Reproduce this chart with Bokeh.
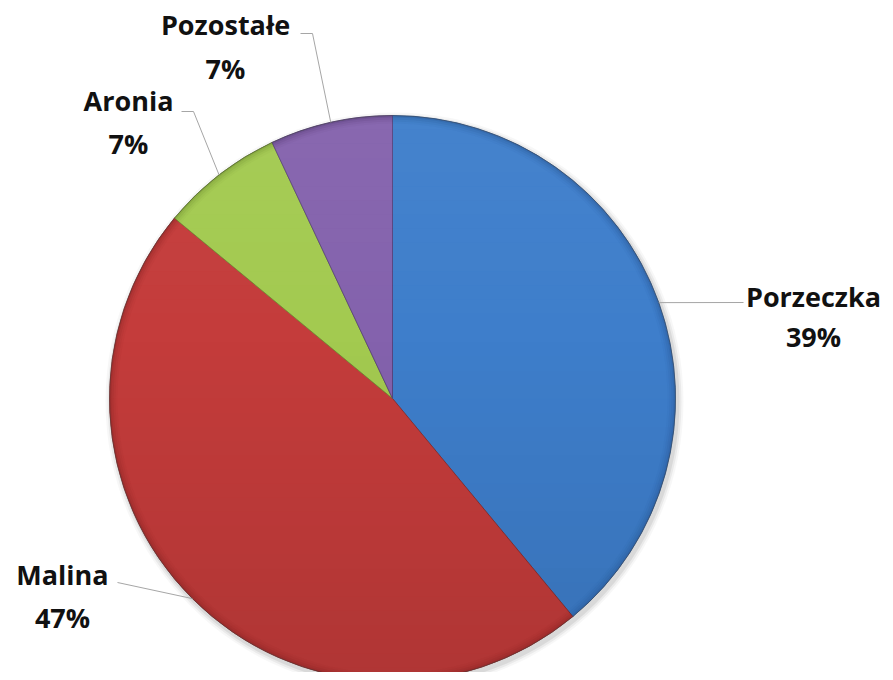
import math
from bokeh.plotting import figure
from bokeh.models import Range1d, ColumnDataSource
from bokeh.core.properties import value
from bokeh.embed import file_html
from bokeh.resources import INLINE

# ---- data ----
categories = ["Porzeczka", "Malina", "Aronia", "Pozostałe"]
shares = [39, 47, 7, 7]
pct_labels = ["39%", "47%", "7%", "7%"]

# ---- styling / layout ----
colors = ["#3e7ecb", "#c43c3b", "#a3ca50", "#8462ad"]
edge_colors = ["#2a5896", "#8a2827", "#6f8f30", "#563e78"]
W, H = 885, 672
def sy(y):  # screen y -> data y
    return 680 - y
cx, cy, R = 392, sy(398), 283
TXT_DY = -9  # baseline correction

# label layout in screen coords: (leader end x, leader end y, elbow x or None, text center x, baseline1, baseline2)
label_layout = {
    "Porzeczka": (743, 302, None, 813, 305, 345),
    "Malina":    (117, 582, None, 62, 583, 626),
    "Aronia":    (181, 111, 193, 128, 109, 152),
    "Pozostałe": (300, 33, 312, 225, 33, 77),
}

p = figure(width=W, height=H, x_range=Range1d(0, W), y_range=Range1d(sy(H), sy(0)),
           output_backend="svg", toolbar_location=None, min_border=0, title=None)
p.axis.visible = False
p.grid.visible = False
p.outline_line_color = None
p.background_fill_color = "white"

total = sum(shares)
starts, ends, mids = [], [], []
cum = 0.0
for v in shares:
    a0 = 90 - cum / total * 360
    cum += v
    a1 = 90 - cum / total * 360
    starts.append(math.radians(a0))
    ends.append(math.radians(a1))
    mids.append(math.radians((a0 + a1) / 2))

# soft shadow
for dr, al in [(6, 0.03), (4, 0.05), (2, 0.07)]:
    p.circle(x=[cx + 2], y=[cy - 3], radius=R + dr, fill_color="black", fill_alpha=al, line_color=None)

src = ColumnDataSource(dict(start=starts, end=ends, color=colors, edge=edge_colors))
p.wedge(x=cx, y=cy, radius=R, start_angle="start", end_angle="end", direction="clock",
        fill_color="color", line_color="edge", line_width=0.8, source=src)

# vertical shading (lighter top, darker bottom) via horizontal circle bands
nb = 40
for k in range(nb):
    y0 = cy + R - 2 * R * k / nb
    y1 = cy + R - 2 * R * (k + 1) / nb
    xs, ys = [], []
    steps = 6
    for j in range(steps + 1):
        yy = y0 + (y1 - y0) * j / steps
        hw = math.sqrt(max(R * R - (yy - cy) ** 2, 0))
        xs.append(cx + hw); ys.append(yy)
    for j in range(steps, -1, -1):
        yy = y0 + (y1 - y0) * j / steps
        hw = math.sqrt(max(R * R - (yy - cy) ** 2, 0))
        xs.append(cx - hw); ys.append(yy)
    t = (k + 0.5) / nb
    if t < 0.4:
        p.patch(xs, ys, fill_color="white", fill_alpha=0.04 * (0.4 - t) / 0.4, line_color=None)
    else:
        p.patch(xs, ys, fill_color="black", fill_alpha=0.10 * (t - 0.4) / 0.6, line_color=None)

# soft bevel rim (gradual darkening to the edge)
for r_in, al in [(R - 8, 0.06), (R - 6, 0.10), (R - 4, 0.16), (R - 2, 0.26)]:
    p.annular_wedge(x=cx, y=cy, inner_radius=r_in, outer_radius=R, start_angle="start", end_angle="end",
                    direction="clock", fill_color="edge", fill_alpha=al, line_color=None, source=src)
p.circle(x=[cx], y=[cy], radius=R, fill_color=None, line_color="#444444", line_alpha=0.4, line_width=1)

# leader lines and labels
font = value("Open Sans")
for i, name in enumerate(categories):
    ex, ey, elx, tx, b1, b2 = label_layout[name]
    ax = cx + R * math.cos(mids[i])
    ay = cy + R * math.sin(mids[i])
    if elx is None:
        lx, ly = [ax, ex], [ay, sy(ey)]
    else:
        lx, ly = [ax, elx, ex], [ay, sy(ey), sy(ey)]
    p.line(lx, ly, line_color="#a6a6a6", line_width=1)
    p.text(x=[tx], y=[sy(b1 + TXT_DY)], text=[name], text_font=font, text_font_style="bold",
           text_font_size="27px", text_align="center", text_baseline="alphabetic", text_color="#111111")
    p.text(x=[tx], y=[sy(b2 + TXT_DY)], text=[pct_labels[i]], text_font=font, text_font_style="bold",
           text_font_size="27px", text_align="center", text_baseline="alphabetic", text_color="#111111")

open("out.html", "w").write(file_html(p, INLINE))
